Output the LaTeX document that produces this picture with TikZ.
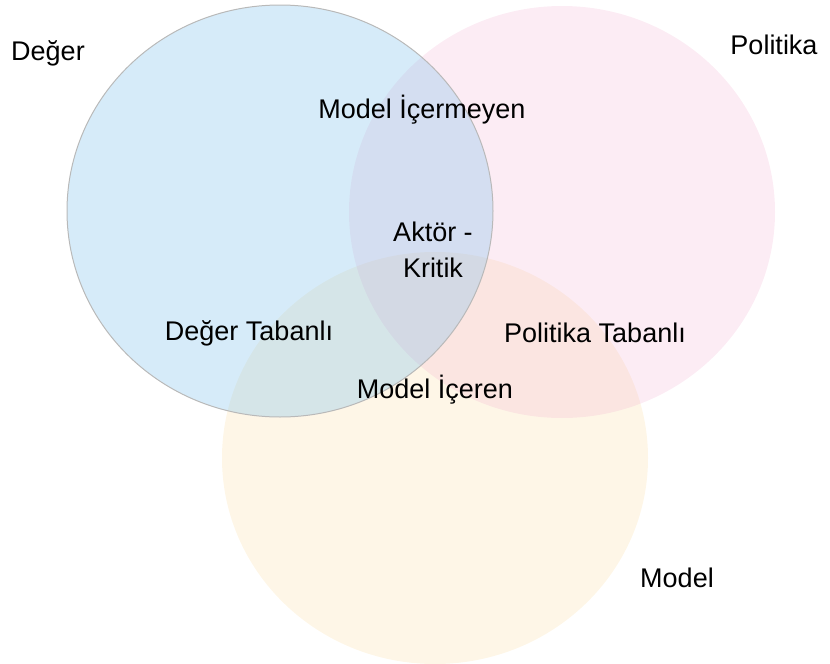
\documentclass[tikz,border=0pt]{standalone}
\usepackage{fontspec}
\setmainfont{Liberation Sans}
\usetikzlibrary{shapes.geometric}
\definecolor{cblue}{RGB}{120,190,235}
\definecolor{cpink}{RGB}{240,160,200}
\definecolor{cyellow}{RGB}{250,220,160}
\definecolor{cedge}{RGB}{185,185,185}
\begin{document}
\begin{tikzpicture}[x=1pt,y=-1pt,
  setcircle/.style={ellipse,inner sep=0pt,minimum width=426pt,minimum height=412pt},
  lbl/.style={font=\fontsize{27}{36}\selectfont,text=black,inner sep=0pt,align=center}]
\useasboundingbox (0,0) rectangle (830,664);
\node[setcircle,fill=cyellow,fill opacity=0.25] (model) at (435,458) {};
\node[setcircle,fill=cpink,fill opacity=0.2] (politika) at (562,212) {};
\node[setcircle,fill=cblue,fill opacity=0.3,draw=cedge,line width=1pt,draw opacity=1] (deger) at (280,211) {};
\node[lbl] (tdeger) at (48,53) {Değer};
\node[lbl] (tpolitika) at (774,45) {Politika};
\node[lbl] (tmodel) at (677,578) {Model};
\node[lbl] (tmi) at (422,110) {Model İçermeyen};
\node[lbl] (tak) at (433,250) {Aktör -\\Kritik};
\node[lbl] (tdt) at (249,333) {Değer Tabanlı};
\node[lbl] (tpt) at (595,333) {Politika Tabanlı};
\node[lbl] (tmic) at (435,390) {Model İçeren};
\end{tikzpicture}
\end{document}
